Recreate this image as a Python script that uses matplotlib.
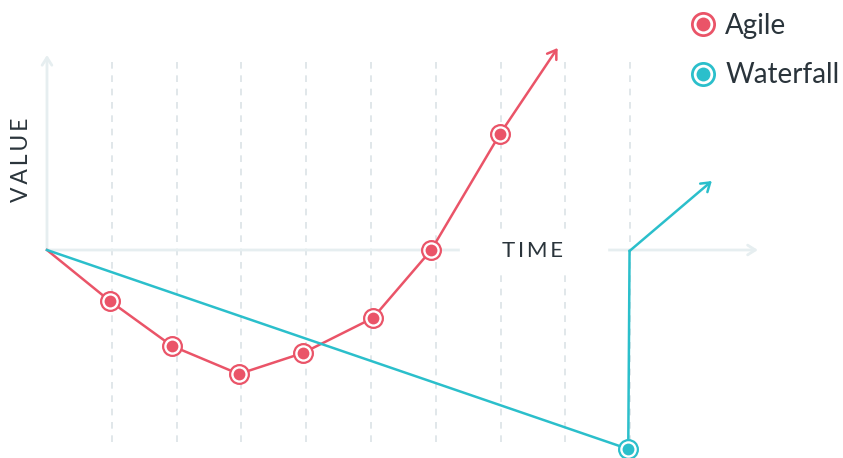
import matplotlib
matplotlib.use("Agg")
import matplotlib.pyplot as plt
from matplotlib.lines import Line2D
from matplotlib.patches import Rectangle

plt.rcParams['font.family'] = ['Lato', 'DejaVu Sans']

# time steps (gridlines) and series
grid_t = [1, 2, 3, 4, 5, 6, 7, 8, 9]

agile_t = [0, 0.97, 1.93, 2.96, 3.95, 5.03, 5.93, 6.99]
agile_v = [0, -1.02, -1.92, -2.48, -2.06, -1.36, 0.0, 2.32]
agile_tip = (7.88, 4.04)

fall_t = [0, 8.97, 8.99]
fall_v = [0, -3.98, -0.02]
fall_tip = (10.26, 1.38)

agile_col = '#ea5468'
fall_col = '#2bbfcb'
axis_col = '#e6eef0'
grid_col = '#dbe3e6'
text_col = '#2a343b'

fig = plt.figure(figsize=(8.43, 4.58), dpi=100)
ax = fig.add_axes([0, 0, 1, 1])
ax.set_xlim(-0.725, 12.284)
ax.set_ylim(-4.16, 5.0)
ax.axis('off')

# dashed time gridlines
ax.vlines(grid_t, -3.84, 3.76, colors=grid_col, lw=1.2,
          linestyles=(0, (4, 4)), zorder=1)

# axes with open arrowheads
arrow_kw = dict(arrowstyle='->,head_length=0.55,head_width=0.35',
                color=axis_col, lw=2, shrinkA=0, shrinkB=0)
ax.annotate('', xy=(10.97, 0), xytext=(0, 0), arrowprops=arrow_kw, zorder=2)
ax.annotate('', xy=(0, 3.9), xytext=(0, 0), arrowprops=arrow_kw, zorder=2)

# white gap behind the TIME label
ax.add_patch(Rectangle((6.37, -0.36), 2.27, 0.66, color='white', zorder=3))
ax.text(7.5, -0.02, 'T\u2009I\u2009M\u2009E', ha='center', va='center',
        fontsize=16, color=text_col, zorder=4)
ax.text(-0.39, 1.8, 'V\u2009A\u2009L\u2009U\u2009E', ha='center', va='center',
        rotation=90, fontsize=16.5, color=text_col, zorder=4)

# series lines
ax.plot(agile_t, agile_v, color=agile_col, lw=1.8, zorder=5)
ax.plot(fall_t, fall_v, color=fall_col, lw=1.8, zorder=5)
for col, t, v, tip in [(agile_col, agile_t, agile_v, agile_tip),
                       (fall_col, fall_t, fall_v, fall_tip)]:
    ax.annotate('', xy=tip, xytext=(t[-1], v[-1]),
                arrowprops=dict(arrowstyle='->,head_length=0.6,head_width=0.4',
                                color=col, lw=1.8, shrinkA=0, shrinkB=0),
                zorder=5)

# ringed markers
ax.plot(agile_t[1:], agile_v[1:], 'o', ms=13.5, mfc='white', mec=agile_col,
        mew=1.6, zorder=6)
ax.plot(agile_t[1:], agile_v[1:], 'o', ms=8.5, mfc=agile_col, mec='none',
        zorder=7)
ax.plot(fall_t[1:2], fall_v[1:2], 'o', ms=13.5, mfc='white', mec=fall_col,
        mew=1.6, zorder=6)
ax.plot(fall_t[1:2], fall_v[1:2], 'o', ms=8.5, mfc=fall_col, mec='none',
        zorder=7)

# legend
handles = []
for col in [agile_col, fall_col]:
    outer = Line2D([], [], ls='none', marker='o', ms=16, mfc='white',
                   mec=col, mew=2)
    inner = Line2D([], [], ls='none', marker='o', ms=10, mfc=col, mec='none')
    handles.append((outer, inner))
leg = fig.legend(handles, ['Agile', 'Waterfall'], loc='upper right',
                 bbox_to_anchor=(1.022, 1.02), frameon=False, fontsize=20,
                 handlelength=0.9, handletextpad=0.35, labelspacing=0.84,
                 borderpad=0.3)
for txt in leg.get_texts():
    txt.set_color(text_col)

fig.savefig('out.png', dpi=100)
